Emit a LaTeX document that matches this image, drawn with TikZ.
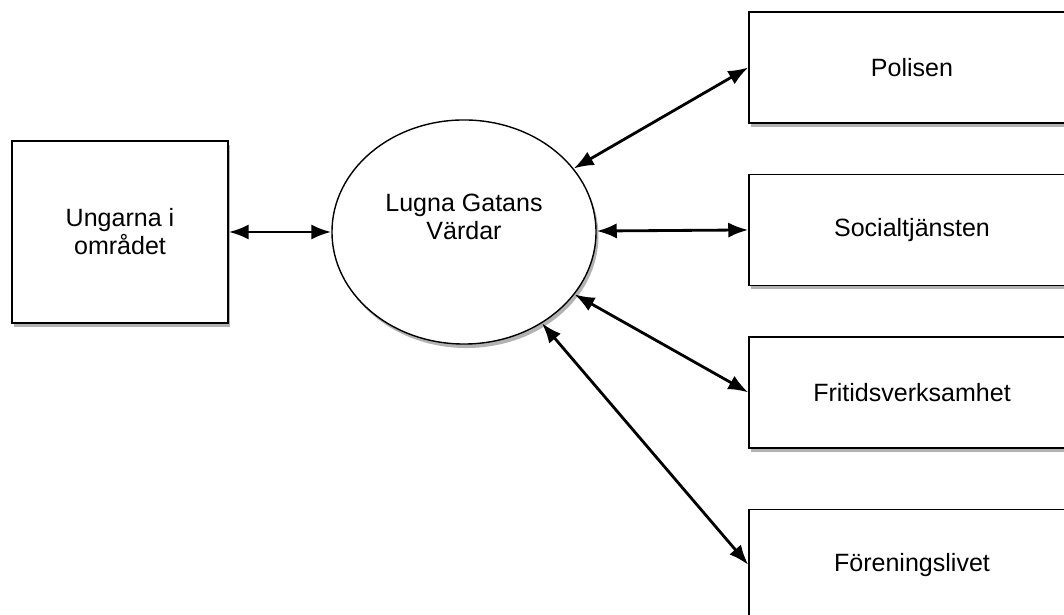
\documentclass[tikz,border=0pt]{standalone}
\usepackage{fontspec}
\setmainfont{Liberation Sans}
\usetikzlibrary{arrows.meta,positioning,shapes.geometric,shadows}

\begin{document}
\begin{tikzpicture}[x=0.025cm, y=0.025cm,
    font=\fontsize{17.8}{20}\selectfont,
    boxshadow/.style={drop shadow={shadow xshift=0.06cm, shadow yshift=-0.1cm, fill=black!60}},
    box/.style={draw, line width=1pt, fill=white, boxshadow, align=center,
      minimum width=8.15cm, minimum height=2.775cm},
    link/.style={{Latex[length=5mm,width=3.8mm]}-{Latex[length=5mm,width=3.8mm]}, line width=2pt}]

  \useasboundingbox (0,0) rectangle (1064,615);
  \clip (0,0) rectangle (1064,615);

  \node[box, minimum width=5.4cm, minimum height=4.55cm] (ungarna) at (120,383) {Ungarna i\\området};

  \node[draw, ellipse, line width=1pt, fill=white, boxshadow, align=center,
    minimum width=6.6cm, minimum height=5.6cm, inner sep=0pt, text depth=0.75cm] (vardar) at (464,383) {Lugna Gatans\\Värdar};

  \node[box] (polisen) at (912,547.5) {Polisen};
  \node[box, below=1.25cm of polisen] (social) {Socialtjänsten};
  \node[box, below=1.25cm of social] (fritid) {Fritidsverksamhet};
  \node[box, below=1.5cm of fritid] (forening) {Föreningslivet};

  \draw[link] (ungarna) -- (vardar);
  \draw[link] (vardar) -- (polisen.west);
  \draw[link] (vardar) -- (social.west);
  \draw[link] (vardar) -- (fritid.west);
  \draw[link] (vardar) -- (forening.west);

\end{tikzpicture}
\end{document}
